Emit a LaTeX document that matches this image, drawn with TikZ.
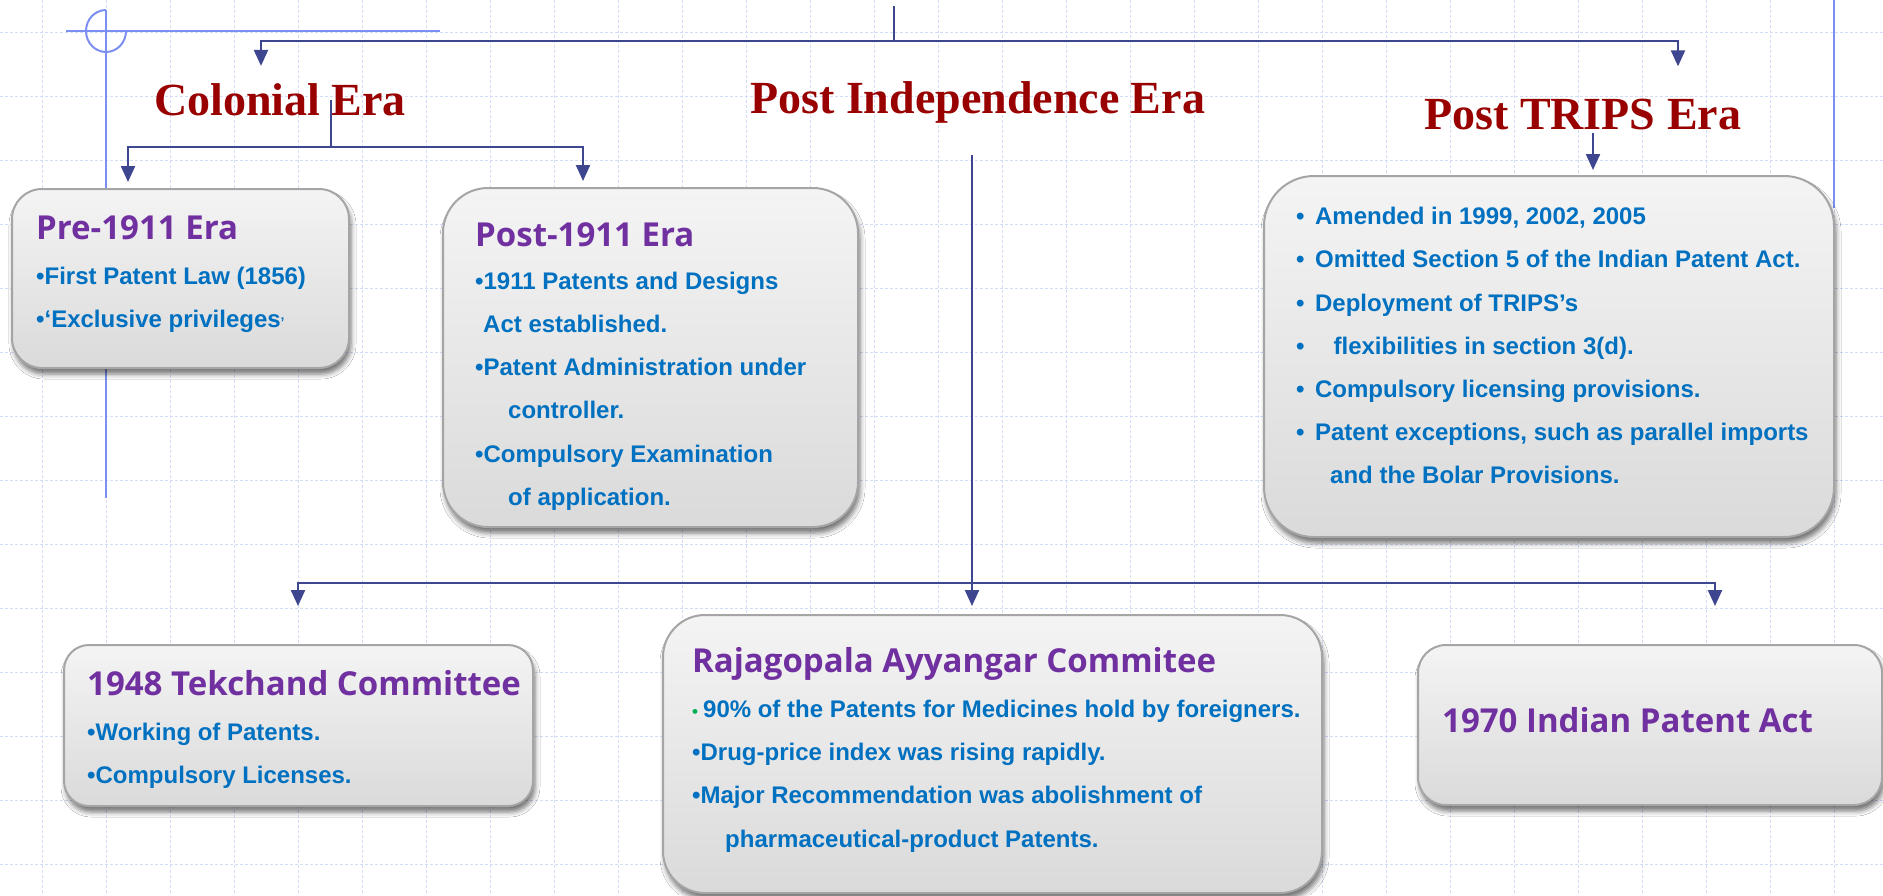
\documentclass[tikz,border=0pt]{standalone}
\usepackage{fontspec}
\usetikzlibrary{
  arrows.meta,
  calc,
  shadows.blur,
}
\setmainfont{Liberation Sans}
\newfontfamily\serifera{Liberation Serif}
\newfontfamily\headsans{Open Sans}
\definecolor{cRed}{HTML}{990000}
\definecolor{cPurple}{HTML}{7030A0}
\definecolor{cBlue}{HTML}{0070C0}
\definecolor{cGreen}{HTML}{00B050}
\definecolor{cLink}{HTML}{3E4690}
\definecolor{cDeco}{HTML}{7D8EF2}
\definecolor{cGrid}{HTML}{D3DCF7}
\definecolor{cEdge}{HTML}{A5A5A5}
\definecolor{cTop}{HTML}{F4F4F4}
\definecolor{cBot}{HTML}{DADADA}

\tikzset{
  era/.style={font=\serifera\bfseries\fontsize{46}{46}\selectfont, text=cRed, inner sep=0pt, anchor=base west},
  panel/.style={draw=cEdge, line width=2pt, rounded corners=#1, top color=cTop, bottom color=cBot,
    blur shadow={shadow xshift=2pt, shadow yshift=-6pt, shadow blur radius=5pt, shadow opacity=55}},
  panel/.default=30pt,
  notes/.style={font=\bfseries\fontsize{24}{43.2}\selectfont, text=cBlue, align=left, inner sep=0pt, anchor=north west},
  gridline/.style={cGrid, line width=1pt, dash pattern=on 3pt off 2pt},
  deco/.style={cDeco, line width=2pt},
  link/.style={cLink, line width=2.2pt},
  arr/.style={link, -{Triangle[length=16pt,width=14pt]}},
}
\newcommand{\hd}[1]{{\headsans\bfseries\fontsize{33}{43.2}\selectfont\color{cPurple}#1}}

\begin{document}
\begin{tikzpicture}[x=1pt,y=-1pt]
  \useasboundingbox (0,0) rectangle (1883,895);
  \fill[white] (0,0) rectangle (1883,895);

  % background grid
  \foreach \gx in {0,...,28}{
      \draw[gridline] ({42+64*\gx},0) -- ({42+64*\gx},895);
    }
  \foreach \gy in {0,...,13}{
      \draw[gridline] (0,{32+64*\gy}) -- (1883,{32+64*\gy});
    }

  % slide decoration
  \draw[deco] (66,31) -- (440,31);
  \draw[deco] (106,10) -- (106,498);
  \draw[deco] (106,10) arc[start angle=-90, end angle=-360, x radius=20, y radius=21];
  \draw[deco] (1834,0) -- (1834,208);

  % era titles
  \node[era] (colonial) at (154,115) {Colonial Era};
  \node[era] (postind) at (750,113) {Post Independence Era};
  \node[era] (posttrips) at (1424,129) {Post TRIPS Era};

  % boxes
  \node[panel=30pt, minimum width=337pt, minimum height=179pt] (pre) at (180.5,278.5) {};
  \node[panel=45pt, minimum width=415pt, minimum height=339pt] (post) at (650.5,357.5) {};
  \node[panel=50pt, minimum width=570pt, minimum height=361pt] (trips) at (1549,356.5) {};
  \node[panel=25pt, minimum width=469pt, minimum height=161pt] (tekchand) at (298.5,725.5) {};
  \node[panel=42pt, minimum width=659pt, minimum height=278pt] (ayyangar) at (992.5,754) {};
  \node[panel=28pt, minimum width=464pt, minimum height=160pt] (act) at (1650,725) {};

  % box texts
  \node[notes] (pretxt) at (36,215) {\hd{Pre-1911 Era}\\[2pt]
    •First Patent Law (1856)\\
    •‘Exclusive privileges{\fontsize{14}{14}\selectfont ’}};
  \node[notes] (posttxt) at (475,222) {\hd{Post-1911 Era}\\
    •1911 Patents and Designs\\
    \hspace*{8pt}Act established.\\
    •Patent Administration under\\
    \hspace*{33pt}controller.\\
    •Compulsory Examination\\
    \hspace*{33pt}of application.};
  \node[notes] (tripstxt) at (1296,207) {•\hspace{10.5pt}Amended in 1999, 2002, 2005\\
    •\hspace{10.5pt}Omitted Section 5 of the Indian Patent Act.\\
    •\hspace{10.5pt}Deployment of TRIPS’s\\
    •\hspace{29pt}flexibilities in section 3(d).\\
    •\hspace{10.5pt}Compulsory licensing provisions.\\
    •\hspace{10.5pt}Patent exceptions, such as parallel imports\\
    \hspace*{34pt}and the Bolar Provisions.};
  \node[notes] (tektxt) at (87,670) {\hd{1948 Tekchand Committee}\\[2pt]
    •Working of Patents.\\
    •Compulsory Licenses.};
  \node[notes] (ayytxt) at (692,647) {\hd{Rajagopala Ayyangar Commitee}\\[2pt]
    {\color{cGreen}\fontsize{17}{17}\selectfont •}\hspace{5pt}90\% of the Patents for Medicines hold by foreigners.\\
    •Drug-price index was rising rapidly.\\
    •Major Recommendation was abolishment of\\
    \hspace*{33pt}pharmaceutical-product Patents.};
  \node[notes] (acttxt) at (1442,707) {\hd{1970 Indian Patent Act}};

  % connectors
  \coordinate (root) at (894,6);
  \coordinate (topfork) at (894,41);
  \draw[link] (root) -- (topfork);
  \draw[arr, shorten >=17pt] (topfork) -| (colonial.north -| 261,0);
  \draw[arr, shorten >=32pt] (topfork) -| (posttrips.north -| 1678,0);

  \coordinate (colstem) at (331,100);
  \coordinate (colfork) at (331,147);
  \draw[link] (colstem) -- (colfork);
  \draw[arr, shorten >=6pt] (colfork) -| (pre.north -| 128,0);
  \draw[arr, shorten >=6pt] (colfork) -| (post.north -| 583,0);

  \coordinate (tripsstem) at (1593,133);
  \draw[arr, shorten >=5pt] (tripsstem) -- (trips.north -| tripsstem);

  \coordinate (indstem) at (972,155);
  \coordinate (indfork) at (972,583);
  \draw[arr, shorten >=8pt] (indstem) -- (ayyangar.north -| indstem);
  \draw[arr, shorten >=38pt] (indfork) -| (tekchand.north -| 298,0);
  \draw[arr, shorten >=38pt] (indfork) -| (act.north -| 1715,0);
\end{tikzpicture}
\end{document}
